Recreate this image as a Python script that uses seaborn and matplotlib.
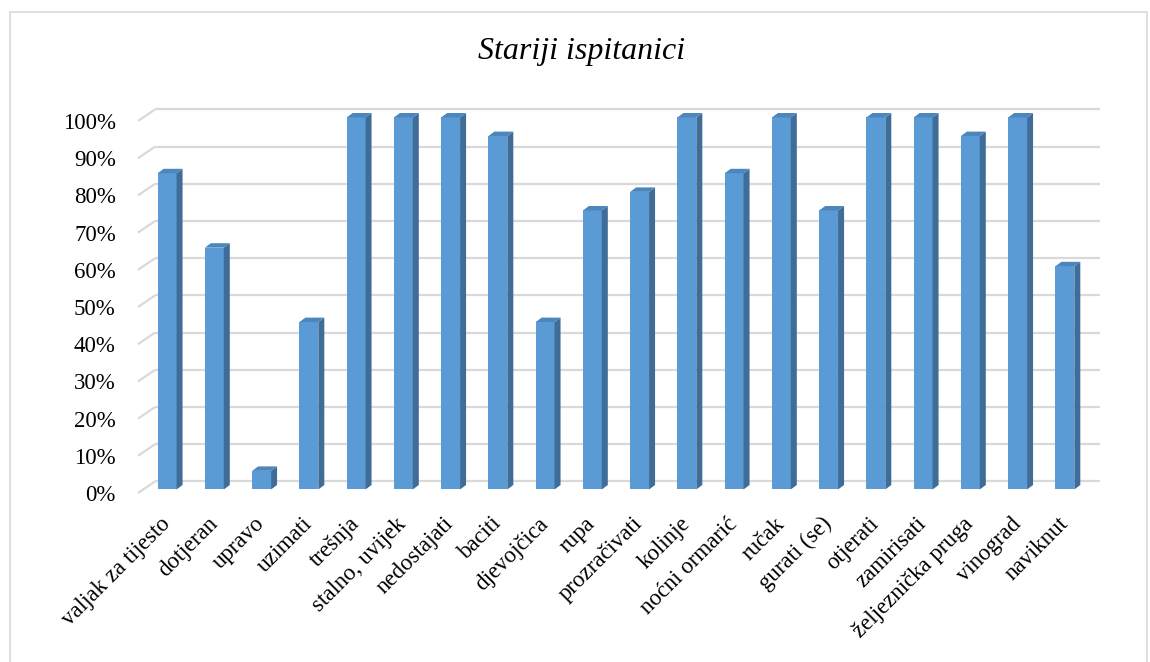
import matplotlib
matplotlib.use("Agg")
import matplotlib.pyplot as plt
from matplotlib.patches import Polygon, Rectangle
import pandas as pd
import seaborn as sns

# data (share of correct answers, %)
CATEGORIES = [
    "valjak za tijesto", "dotjeran", "upravo", "uzimati", "trešnja",
    "stalno, uvijek", "nedostajati", "baciti", "djevojčica", "rupa",
    "prozračivati", "kolinje", "noćni ormarić", "ručak", "gurati (se)",
    "otjerati", "zamirisati", "željeznička pruga", "vinograd", "naviknut",
]
VALUES = [85, 65, 5, 45, 100, 100, 100, 95, 45, 75,
          80, 100, 85, 100, 75, 100, 100, 95, 100, 60]
Y_TICKS = list(range(0, 101, 10))
TITLE = "Stariji ispitanici"

FRONT = "#5B9BD5"
SIDE = "#3F6D98"
TOP = "#4D86BC"
GRID = "#D9D9D9"

# fake 3D depth (data units: categories / percent)
WALL_DX, WALL_DY = 0.36, 3.1
BAR_DX, BAR_DY = 0.127, 1.2
BAR_SHIFT_X, BAR_SHIFT_Y = 0.116, 0.95

sns.set_theme(style="white")
plt.rcParams["font.family"] = ["Liberation Serif", "DejaVu Serif"]
plt.rcParams["text.color"] = "black"
plt.rcParams["xtick.color"] = "black"
plt.rcParams["ytick.color"] = "black"

fig = plt.figure(figsize=(11.5, 6.62), dpi=100)
ax = fig.add_axes([138 / 1150, 169 / 662, 945 / 1150, 409.2 / 662])

df = pd.DataFrame({"rijec": CATEGORIES, "udio": VALUES})
sns.barplot(data=df, x="rijec", y="udio", color=FRONT, saturation=1,
            width=0.4, ax=ax, zorder=3)

# back wall gridlines + left floor edge
for v in Y_TICKS:
    ax.plot([-0.5, -0.5 + WALL_DX], [v, v + WALL_DY], color=GRID, lw=1.6,
            clip_on=False, zorder=1, solid_capstyle="butt")
    ax.plot([-0.5 + WALL_DX, 19.5 + WALL_DX], [v + WALL_DY] * 2, color=GRID,
            lw=1.6, clip_on=False, zorder=1, solid_capstyle="butt")

# side and top faces of each column
for p in ax.patches[:len(VALUES)]:
    p.set_x(p.get_x() + BAR_SHIFT_X)
    p.set_y(BAR_SHIFT_Y)
    p.set_linewidth(0)
    x, w, h = p.get_x(), p.get_width(), p.get_height()
    y0, y1 = BAR_SHIFT_Y, BAR_SHIFT_Y + h
    side = Polygon([(x + w, y0), (x + w + BAR_DX, y0 + BAR_DY),
                    (x + w + BAR_DX, y1 + BAR_DY), (x + w, y1)],
                   closed=True, facecolor=SIDE, edgecolor="none", zorder=3)
    top = Polygon([(x, y1), (x + w, y1), (x + w + BAR_DX, y1 + BAR_DY),
                   (x + BAR_DX, y1 + BAR_DY)],
                  closed=True, facecolor=TOP, edgecolor="none", zorder=3)
    ax.add_patch(side)
    ax.add_patch(top)

ax.set_xlim(-0.5, 19.5)
ax.set_ylim(0, 110)
ax.set_yticks(Y_TICKS)
ax.set_yticklabels([f"{v}%" for v in Y_TICKS], fontsize=16.5)
ax.set_xticks([i + BAR_SHIFT_X for i in range(len(CATEGORIES))])
ax.set_xticklabels(CATEGORIES, rotation=45, ha="right", va="center",
                   rotation_mode="anchor", fontsize=16.5)
ax.tick_params(axis="y", length=0, pad=16)
ax.tick_params(axis="x", length=0, pad=20)
ax.set_xlabel("")
ax.set_ylabel("")
for s in ax.spines.values():
    s.set_visible(False)

fig.text(0.5057, 1 - 52 / 662, TITLE, ha="center", va="center",
         fontsize=23, style="italic", color="black")

fig.patches.append(Rectangle((10 / 1150, -0.02), 1137 / 1150, 1 - 12 / 662 + 0.02,
                             transform=fig.transFigure, fill=False,
                             edgecolor=GRID, lw=1.2))

fig.savefig("out.png", dpi=100)
